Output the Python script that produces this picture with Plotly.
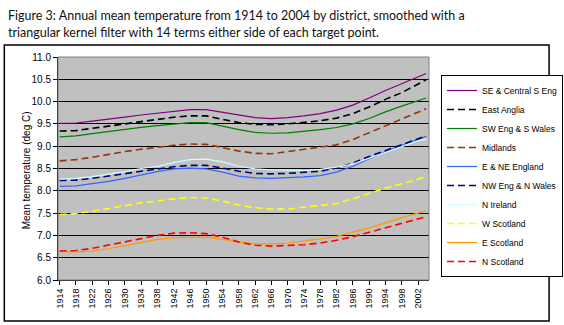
import plotly.graph_objects as go

years = [1914, 1918, 1922, 1926, 1930, 1934, 1938, 1942, 1946, 1950, 1954, 1958,
         1962, 1966, 1970, 1974, 1978, 1982, 1986, 1990, 1994, 1998, 2002, 2004]

se_central = [9.51, 9.52, 9.56, 9.60, 9.65, 9.70, 9.74, 9.78, 9.82, 9.82, 9.76, 9.70,
              9.64, 9.62, 9.64, 9.68, 9.73, 9.81, 9.92, 10.08, 10.25, 10.40, 10.56, 10.63]
east_anglia = [9.34, 9.35, 9.40, 9.45, 9.50, 9.55, 9.61, 9.65, 9.68, 9.68, 9.60, 9.53,
               9.49, 9.48, 9.50, 9.53, 9.57, 9.63, 9.73, 9.88, 10.05, 10.20, 10.40, 10.49]
sw_wales = [9.21, 9.23, 9.28, 9.33, 9.37, 9.42, 9.46, 9.50, 9.53, 9.53, 9.45, 9.37,
            9.31, 9.29, 9.30, 9.33, 9.37, 9.42, 9.50, 9.62, 9.77, 9.90, 10.03, 10.08]
midlands = [8.67, 8.70, 8.75, 8.82, 8.88, 8.93, 8.98, 9.02, 9.05, 9.04, 8.97, 8.89,
            8.84, 8.83, 8.88, 8.93, 8.97, 9.03, 9.15, 9.30, 9.46, 9.60, 9.76, 9.84]
e_ne_england = [8.10, 8.11, 8.16, 8.21, 8.28, 8.36, 8.43, 8.49, 8.51, 8.49, 8.42, 8.33,
                8.29, 8.28, 8.29, 8.31, 8.34, 8.42, 8.55, 8.72, 8.88, 9.02, 9.16, 9.22]
nw_n_wales = [8.23, 8.24, 8.28, 8.33, 8.38, 8.43, 8.48, 8.54, 8.57, 8.57, 8.51, 8.44,
              8.39, 8.38, 8.39, 8.41, 8.44, 8.51, 8.62, 8.77, 8.90, 9.03, 9.17, 9.23]
n_ireland = [8.26, 8.28, 8.32, 8.37, 8.43, 8.50, 8.55, 8.63, 8.70, 8.71, 8.65, 8.55,
             8.49, 8.47, 8.46, 8.46, 8.48, 8.53, 8.60, 8.73, 8.87, 8.99, 9.12, 9.16]
w_scotland = [7.47, 7.49, 7.54, 7.60, 7.67, 7.73, 7.77, 7.82, 7.85, 7.84, 7.77, 7.68,
              7.62, 7.59, 7.59, 7.63, 7.66, 7.71, 7.82, 7.94, 8.06, 8.16, 8.26, 8.31]
e_scotland = [6.64, 6.63, 6.65, 6.70, 6.77, 6.84, 6.91, 6.95, 6.96, 6.96, 6.91, 6.85,
              6.81, 6.81, 6.83, 6.87, 6.92, 6.98, 7.07, 7.17, 7.28, 7.40, 7.50, 7.55]
n_scotland = [6.65, 6.66, 6.71, 6.78, 6.85, 6.93, 7.00, 7.05, 7.06, 7.04, 6.96, 6.85,
              6.78, 6.76, 6.77, 6.79, 6.83, 6.89, 6.97, 7.07, 7.18, 7.28, 7.38, 7.42]

series_names = ["SE & Central S Eng", "East Anglia", "SW Eng & S Wales", "Midlands",
                "E & NE England", "NW Eng & N Wales", "N Ireland", "W Scotland",
                "E Scotland", "N Scotland"]
series_values = [se_central, east_anglia, sw_wales, midlands, e_ne_england,
                 nw_n_wales, n_ireland, w_scotland, e_scotland, n_scotland]
series_colors = ["#800080", "#000000", "#008000", "#993300", "#3366FF",
                 "#000080", "#CCFFFF", "#FFFF00", "#FF9900", "#FF0000"]
series_dash = ["solid", "7px,4px", "solid", "7px,4px", "solid",
               "7px,4px", "solid", "7px,4px", "solid", "7px,4px"]

tick_years = list(range(1914, 2003, 4))
y_ticks = [6.0, 6.5, 7.0, 7.5, 8.0, 8.5, 9.0, 9.5, 10.0, 10.5, 11.0]

fig = go.Figure()
for name, vals, col, dash in zip(series_names, series_values, series_colors, series_dash):
    fig.add_trace(go.Scatter(x=years, y=vals, mode="lines", name=name,
                             line=dict(color=col, width=1.2 if dash == "solid" else 1.6, dash=dash)))

fig.update_layout(
    width=564, height=325,
    margin=dict(l=58, r=126, t=57, b=45),
    paper_bgcolor="white",
    plot_bgcolor="#C0C0C0",
    font=dict(family="Liberation Sans, Arial", size=10, color="#000000"),
    showlegend=True,
    legend=dict(xref="container", yref="container", x=441 / 564, y=1 - 176 / 325,
                xanchor="left", yanchor="middle", maxheight=280,
                bgcolor="white", bordercolor="black", borderwidth=1,
                font=dict(size=8.5), tracegroupgap=0, itemwidth=30),
    xaxis=dict(range=[1913.6, 2004.7], tickmode="array", tickvals=tick_years,
               ticktext=[str(t) for t in tick_years], tickangle=-90,
               ticks="outside", ticklen=4, tickcolor="black",
               showgrid=False, showline=True, linecolor="black", linewidth=1,
               mirror=False, zeroline=False, tickfont=dict(size=9)),
    yaxis=dict(range=[6.0, 11.0], tickmode="array", tickvals=y_ticks,
               ticktext=["%.1f" % v for v in y_ticks],
               ticks="outside", ticklen=4, tickcolor="black",
               showgrid=True, gridcolor="black", gridwidth=1,
               showline=True, linecolor="black", linewidth=1,
               zeroline=False, tickfont=dict(size=10)),
)

fig.add_annotation(text="Mean temperature (deg C)", xref="paper", yref="paper",
                   x=-0.105, y=0.49, textangle=-90, showarrow=False,
                   font=dict(size=10, family="Liberation Sans, Arial"))

fig.add_annotation(text="Figure 3: Annual mean temperature from 1914 to 2004 by district, smoothed with a",
                   xref="paper", yref="paper", x=-0.14, y=1.188, xanchor="left", yanchor="middle",
                   showarrow=False, font=dict(size=12.5, family="Lato", color="#111111"))
fig.add_annotation(text="triangular kernel filter with 14 terms either side of each target point.",
                   xref="paper", yref="paper", x=-0.14, y=1.11, xanchor="left", yanchor="middle",
                   showarrow=False, font=dict(size=12.5, family="Lato", color="#111111"))

# plot area top/right border and outer frame
fig.add_shape(type="rect", xref="paper", yref="paper", x0=0, y0=0, x1=1, y1=1,
              line=dict(color="#808080", width=1), layer="above")
fig.add_shape(type="rect", xref="paper", yref="paper",
              x0=(3 - 58) / 380, x1=(561 - 58) / 380,
              y0=(280 - 321) / 223, y1=(280 - 45) / 223,
              line=dict(color="black", width=1.5))

fig.write_html("out.html")
